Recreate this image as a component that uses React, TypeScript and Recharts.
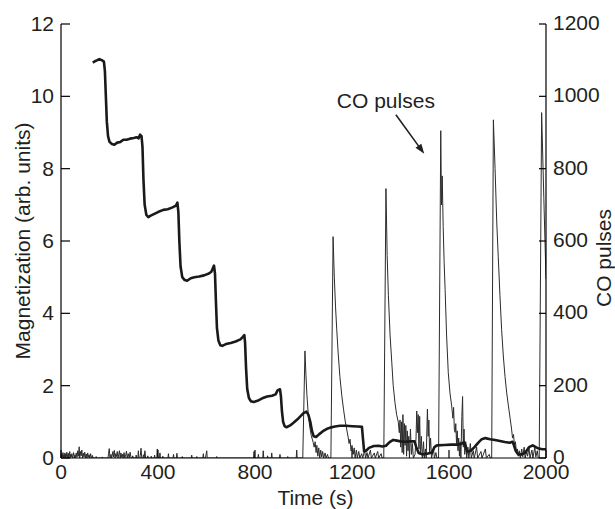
import React from 'react';
import { LineChart, Line, XAxis, YAxis, ReferenceLine } from 'recharts';

// ---- data ----
const timeTicks = [0, 400, 800, 1200, 1600, 2000];
const magTicks = [0, 2, 4, 6, 8, 10, 12];
const coTicks = [0, 200, 400, 600, 800, 1000, 1200];

// magnetization [time s, value]
const magnetization: [number, number][] = [
  [131,10.93],[140,10.97],[150,11.0],[158,11.03],[168,11.0],[177,10.96],[181,10.7],[185,10.0],[189,9.3],[194,8.9],
  [200,8.74],[210,8.68],[220,8.66],[232,8.72],[245,8.74],[257,8.8],[270,8.8],[285,8.83],[300,8.85],[312,8.87],
  [320,8.84],[326,8.94],[332,8.9],[336,8.6],[340,7.7],[345,7.0],[352,6.72],[360,6.66],[370,6.7],[385,6.75],
  [400,6.8],[422,6.86],[440,6.88],[460,6.93],[474,6.98],[480,7.06],[484,6.8],[488,6.0],[493,5.3],[500,5.0],
  [510,4.92],[520,4.9],[535,4.97],[550,5.0],[570,5.02],[590,5.05],[610,5.1],[620,5.15],[631,5.32],[635,5.1],
  [639,4.3],[643,3.6],[649,3.25],[657,3.12],[665,3.1],[680,3.15],[700,3.18],[720,3.22],[740,3.28],[750,3.35],
  [756,3.4],[759,3.2],[763,2.5],[768,1.9],[775,1.66],[783,1.57],[795,1.55],[810,1.58],[830,1.65],[850,1.7],
  [870,1.72],[885,1.76],[893,1.87],[903,1.9],[907,1.7],[911,1.3],[916,1.0],[922,0.88],[930,0.85],[945,0.9],
  [960,0.98],[975,1.07],[990,1.17],[1000,1.24],[1012,1.28],[1020,1.2],[1028,1.0],[1035,0.75],[1042,0.6],[1052,0.58],
  [1065,0.66],[1080,0.74],[1095,0.8],[1110,0.84],[1130,0.87],[1150,0.89],[1175,0.89],[1200,0.88],[1225,0.87],[1241,0.86],
  [1245,0.55],[1250,0.18],[1258,0.2],[1270,0.28],[1290,0.33],[1310,0.34],[1325,0.32],[1340,0.34],[1355,0.44],[1370,0.5],
  [1385,0.48],[1400,0.46],[1420,0.45],[1440,0.46],[1458,0.46],[1465,0.3],[1475,0.14],[1490,0.1],[1510,0.12],[1530,0.15],
  [1540,0.3],[1550,0.35],[1580,0.36],[1610,0.37],[1640,0.37],[1655,0.4],[1662,0.44],[1668,0.35],[1675,0.18],[1690,0.2],
  [1705,0.3],[1720,0.42],[1735,0.52],[1750,0.55],[1770,0.52],[1790,0.5],[1810,0.47],[1830,0.44],[1850,0.42],[1862,0.45],
  [1868,0.35],[1875,0.2],[1885,0.1],[1900,0.1],[1915,0.15],[1930,0.3],[1945,0.35],[1958,0.3],[1970,0.26],[1985,0.24],
  [2000,0.24],
];

// CO signal: baseline noise before the pulses [time s, value]
const coBaseline: [number, number][] = [
  [0,10],[2,0],[4,12],[6,3],[8,15],[10,0],[12,9],[14,2],[16,14],[18,0],[20,11],[22,4],[24,16],[26,0],[28,8],[30,13],
  [32,0],[34,6],[36,18],[38,0],[40,10],[42,3],[45,12],[47,0],[50,7],[52,15],[55,0],[58,9],[60,0],[63,14],[66,2],
  [69,20],[72,5],[75,31],[77,0],[80,18],[83,6],[86,22],[89,0],[92,13],[95,3],[98,16],[101,0],[104,11],[107,0],
  [110,14],[113,2],[116,9],[119,0],[122,12],[126,0],[128,0],[130,7],[132,0],[143,0],[145,4],[147,0],[168,0],[170,3],
  [172,0],[194,0],[196,12],[199,26],[202,0],[206,10],[209,0],[214,18],[217,3],[220,21],[223,0],[226,12],[229,4],
  [232,18],[235,0],[238,9],[241,20],[244,0],[247,14],[250,2],[253,11],[256,0],[260,15],[263,0],[267,8],[270,19],
  [273,0],[277,12],[281,0],[285,16],[289,0],[294,0],[296,6],[298,0],[308,0],[310,8],[312,0],[317,0],[319,20],[321,0],
  [325,0],[327,7],[330,27],[333,0],[338,0],[340,9],[343,0],[346,20],[349,0],[356,0],[358,6],[360,0],[370,0],[372,5],
  [374,0],[384,0],[386,8],[388,0],[395,0],[397,25],[399,0],[406,0],[408,14],[410,0],[418,0],[420,5],[422,0],[441,0],
  [443,12],[445,0],[462,0],[464,10],[466,0],[476,0],[478,13],[480,0],[498,0],[500,4],[502,0],[537,0],[539,8],[541,0],
  [558,0],[560,4],[562,0],[585,0],[587,12],[589,0],[596,0],[598,9],[601,20],[603,0],[640,0],[642,4],[644,0],[794,0],
  [796,18],[798,0],[812,0],[814,10],[816,0],[832,0],[834,20],[836,0],[850,0],[852,6],[854,0],[867,0],[869,14],
  [871,0],[901,0],[903,10],[905,0],[933,0],[935,4],[937,0],[970,0],[972,22],[974,0],[997,0],
];

const coPulse1: [number, number][] = [
  [1006,296],[1010,230],[1014,175],[1020,117],[1026,85],[1032,62],[1040,43],[1044,30],[1048,45],[1052,15],[1055,35],
  [1059,5],[1063,28],[1067,0],[1071,22],[1075,3],[1079,18],[1083,0],[1089,14],[1093,0],[1099,10],[1103,0],[1113,0],
];
const coPulse2: [number, number][] = [
  [1122,612],[1127,500],[1132,420],[1137,356],[1143,290],[1150,225],[1158,172],[1165,135],[1172,102],[1178,80],
  [1184,58],[1188,40],[1192,52],[1196,20],[1200,35],[1205,10],[1209,28],[1213,0],[1218,22],[1222,0],[1228,18],
  [1232,0],[1240,12],[1244,0],[1252,20],[1256,0],[1262,15],[1266,0],[1276,22],[1280,0],[1292,14],[1296,0],
  [1306,18],[1310,0],[1320,12],[1324,0],[1331,0],
];
const coPulse3: [number, number][] = [
  [1340,745],[1345,560],[1350,450],[1357,340],[1364,265],[1370,200],[1377,154],[1384,120],[1391,99],[1395,70],
  [1398,105],[1401,30],[1404,100],[1407,15],[1410,120],[1413,10],[1416,95],[1419,35],[1422,90],[1425,5],[1428,75],
  [1431,20],[1434,60],[1437,0],[1441,80],[1445,10],[1449,40],[1453,0],[1460,10],[1464,55],[1467,130],[1470,70],
  [1473,120],[1476,25],[1479,115],[1482,10],[1486,60],[1490,0],[1495,45],[1498,0],[1503,25],[1506,0],[1511,135],
  [1514,60],[1517,105],[1520,15],[1524,55],[1528,0],[1536,25],[1540,0],[1546,15],[1550,0],[1557,0],
];
const coPulse4: [number, number][] = [
  [1566,905],[1569,700],[1572,780],[1576,640],[1580,540],[1584,466],[1590,340],[1597,236],[1604,180],[1611,144],
  [1616,110],[1619,140],[1622,80],[1625,71],[1628,95],[1631,40],[1634,75],[1637,20],[1640,55],[1643,5],[1646,45],
  [1649,0],[1653,115],[1656,170],[1659,30],[1662,80],[1665,10],[1669,45],[1673,0],[1678,30],[1682,0],[1688,40],
  [1692,0],[1700,20],[1704,0],[1714,30],[1718,0],[1732,18],[1736,0],[1750,25],[1754,0],[1766,10],[1770,0],[1776,0],
];
const coPulse5: [number, number][] = [
  [1783,935],[1790,800],[1797,650],[1803,558],[1810,450],[1817,355],[1824,282],[1831,225],[1838,180],[1845,144],
  [1852,110],[1858,80],[1862,55],[1866,65],[1870,35],[1874,45],[1878,15],[1882,25],[1886,5],[1890,20],[1894,0],
  [1900,25],[1904,3],[1910,30],[1914,0],[1920,18],[1924,5],[1930,28],[1934,0],[1942,22],[1946,0],[1954,30],
  [1958,3],[1964,20],[1968,0],[1972,0],
];
const coPulse6: [number, number][] = [[1982,955],[1991,720],[2000,495]];

// annotation arrow (data coordinates on time / CO axes)
const arrowFrom = { t: 1381, co: 949 };
const arrowTo = { t: 1498, co: 841 };
const annotationText = 'CO pulses';

const magData = magnetization.map(([t, m]) => ({ t, m }));
const coData = [...coBaseline, ...coPulse1, ...coPulse2, ...coPulse3, ...coPulse4, ...coPulse5, ...coPulse6].map(
  ([t, c]) => ({ t, c })
);

const FONT = '"Liberation Sans", Arial, Helvetica, sans-serif';
const INK = '#231f20';
const FS = 21;
const GAP = 7;
const BGAP = 6;

const LeftTick = (props: any) => {
  const { x, y, payload } = props;
  const ax = x + GAP;
  return (
    <g>
      <line x1={ax} y1={y} x2={ax + 9} y2={y} stroke="#000" strokeWidth={1.2} />
      <text x={x} y={y} dy="0.33em" textAnchor="end" fontSize={FS} fontFamily={FONT} fill={INK}>
        {payload.value}
      </text>
    </g>
  );
};
const RightTick = (props: any) => {
  const { x, y, payload } = props;
  const ax = x - GAP;
  return (
    <g>
      <line x1={ax} y1={y} x2={ax - 7} y2={y} stroke="#000" strokeWidth={1.2} />
      <text x={x} y={y} dy="0.28em" textAnchor="start" fontSize={FS} fontFamily={FONT} fill={INK}>
        {payload.value}
      </text>
    </g>
  );
};
const BottomTick = (props: any) => {
  const { x, y, payload } = props;
  const ay = y - BGAP;
  return (
    <g>
      <line x1={x} y1={ay} x2={x} y2={ay - 8} stroke="#000" strokeWidth={1.2} />
      <text x={x} y={y} dy="0.71em" textAnchor="middle" fontSize={FS} fontFamily={FONT} fill={INK}>
        {payload.value}
      </text>
    </g>
  );
};

const ArrowShape = (props: any) => {
  const { x1, y1, x2, y2 } = props;
  if ([x1, y1, x2, y2].some((v) => typeof v !== 'number' || isNaN(v))) return null;
  const dx = x2 - x1;
  const dy = y2 - y1;
  const len = Math.sqrt(dx * dx + dy * dy) || 1;
  const ux = dx / len;
  const uy = dy / len;
  const hl = 10;
  const hw = 3.6;
  const bx = x2 - ux * hl;
  const by = y2 - uy * hl;
  const p1 = `${x2},${y2}`;
  const p2 = `${bx - uy * hw},${by + ux * hw}`;
  const p3 = `${bx + uy * hw},${by - ux * hw}`;
  return (
    <g>
      <line x1={x1} y1={y1} x2={bx + ux * 2} y2={by + uy * 2} stroke={INK} strokeWidth={1.6} />
      <polygon points={`${p1} ${p2} ${p3}`} fill={INK} />
      <text x={x1 - 10} y={y1 - 7} textAnchor="middle" fontSize={FS} fontFamily={FONT} fill={INK}>
        {annotationText}
      </text>
    </g>
  );
};

export default function App() {
  return (
    <div style={{ position: 'absolute', left: 0, top: 0, width: 615, height: 509, background: '#fff' }}>
      <LineChart width={615} height={509} margin={{ top: 24, right: 0, bottom: 0, left: 0 }}>
        <XAxis
          xAxisId="bottom"
          dataKey="t"
          type="number"
          domain={[0, 2000]}
          ticks={timeTicks}
          interval={0}
          allowDataOverflow
          height={51}
          axisLine={{ stroke: '#000', strokeWidth: 1.2 }}
          tickLine={false}
          tickSize={0}
          tickMargin={BGAP}
          tick={<BottomTick />}
          label={{
            content: (p: any) => {
              const vb = p.viewBox || { x: 61, y: 458, width: 485, height: 51 };
              return (
                <text x={vb.x + vb.width / 2 + 12} y={vb.y + 47} textAnchor="middle" fontSize={FS} fontFamily={FONT} fill={INK}>
                  Time (s)
                </text>
              );
            },
          }}
        />
        <XAxis
          xAxisId="top"
          orientation="top"
          dataKey="t"
          type="number"
          domain={[0, 2000]}
          height={0}
          tick={false}
          tickLine={false}
          axisLine={{ stroke: '#000', strokeWidth: 1.2 }}
        />
        <YAxis
          yAxisId="mag"
          orientation="left"
          type="number"
          domain={[0, 12]}
          ticks={magTicks}
          interval={0}
          allowDataOverflow
          width={61}
          axisLine={{ stroke: '#000', strokeWidth: 1.2 }}
          tickLine={false}
          tickSize={0}
          tickMargin={GAP}
          tick={<LeftTick />}
          label={{
            content: (p: any) => {
              const vb = p.viewBox || { x: 0, y: 24, width: 61, height: 434 };
              const cx = vb.x + 22;
              const cy = vb.y + vb.height / 2;
              return (
                <text
                  x={cx}
                  y={cy}
                  transform={`rotate(-90, ${cx}, ${cy})`}
                  textAnchor="middle"
                  dominantBaseline="central"
                  fontSize={FS}
                  fontFamily={FONT}
                  fill={INK}
                >
                  Magnetization (arb. units)
                </text>
              );
            },
          }}
        />
        <YAxis
          yAxisId="co"
          orientation="right"
          type="number"
          domain={[0, 1200]}
          ticks={coTicks}
          interval={0}
          allowDataOverflow
          width={69}
          axisLine={{ stroke: '#000', strokeWidth: 1.2 }}
          tickLine={false}
          tickSize={0}
          tickMargin={GAP}
          tick={<RightTick />}
          label={{
            content: (p: any) => {
              const vb = p.viewBox || { x: 546, y: 24, width: 69, height: 434 };
              const cx = vb.x + 57;
              const cy = vb.y + vb.height / 2 + 17;
              return (
                <text
                  x={cx}
                  y={cy}
                  transform={`rotate(-90, ${cx}, ${cy})`}
                  textAnchor="middle"
                  dominantBaseline="central"
                  fontSize={FS}
                  fontFamily={FONT}
                  fill={INK}
                >
                  CO pulses
                </text>
              );
            },
          }}
        />
        <Line
          xAxisId="bottom"
          yAxisId="co"
          data={coData}
          dataKey="c"
          type="linear"
          stroke="#2b2b2b"
          strokeWidth={1}
          dot={false}
          activeDot={false}
          isAnimationActive={false}
        />
        <Line
          xAxisId="bottom"
          yAxisId="mag"
          data={magData}
          dataKey="m"
          type="linear"
          stroke="#1a1a1a"
          strokeWidth={2.6}
          strokeLinejoin="round"
          dot={false}
          activeDot={false}
          isAnimationActive={false}
        />
        <ReferenceLine
          xAxisId="bottom"
          yAxisId="co"
          segment={[
            { x: arrowFrom.t, y: arrowFrom.co },
            { x: arrowTo.t, y: arrowTo.co },
          ]}
          ifOverflow="visible"
          shape={ArrowShape}
        />
      </LineChart>
    </div>
  );
}
